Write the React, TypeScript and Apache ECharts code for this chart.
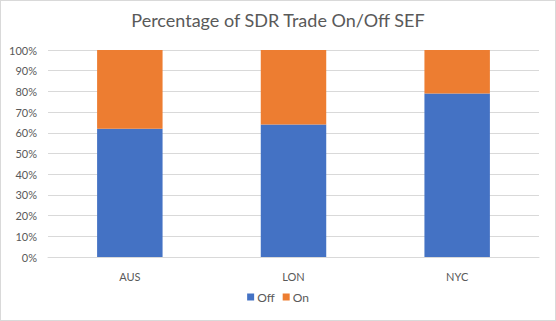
import React, { useEffect, useRef } from "react";
import * as echarts from "echarts";

const categories = ["AUS", "LON", "NYC"];
const offValues = [62, 64, 79];
const onValues = [38, 36, 21];
const seriesNames = ["Off", "On"];

export default function App() {
  const ref = useRef<HTMLDivElement>(null);
  useEffect(() => {
    document.body.style.margin = "0";
    const chart = echarts.init(ref.current!, null, { renderer: "svg" });
    const font = "Lato, 'Open Sans', sans-serif";
    chart.setOption({
      animation: false,
      backgroundColor: "#ffffff",
      title: {
        text: "Percentage of SDR Trade On/Off SEF",
        left: "center",
        top: 5,
        textStyle: { fontFamily: font, fontSize: 18, fontWeight: "normal", color: "#595959" },
      },
      legend: {
        data: seriesNames,
        bottom: 12,
        left: "center",
        itemWidth: 7,
        itemHeight: 7,
        itemGap: 8,
        icon: "rect",
        textStyle: { fontFamily: font, fontSize: 12, color: "#595959", padding: [0, 0, 0, -2] },
      },
      grid: { left: 47, right: 16, top: 49, bottom: 63, containLabel: false },
      xAxis: {
        type: "category",
        data: categories,
        axisTick: { show: false },
        axisLine: { lineStyle: { color: "#d9d9d9" } },
        axisLabel: { fontFamily: font, fontSize: 11, color: "#595959", margin: 14 },
      },
      yAxis: {
        type: "value",
        min: 0,
        max: 100,
        interval: 10,
        axisLabel: { formatter: "{value}%", fontFamily: font, fontSize: 11, color: "#595959", margin: 11 },
        splitLine: { lineStyle: { color: "#d9d9d9" } },
        axisLine: { show: false },
        axisTick: { show: false },
      },
      series: [
        {
          name: seriesNames[0],
          type: "bar",
          stack: "total",
          data: offValues,
          barWidth: "40%",
          itemStyle: { color: "#4472C4" },
        },
        {
          name: seriesNames[1],
          type: "bar",
          stack: "total",
          data: onValues,
          barWidth: "40%",
          itemStyle: { color: "#ED7D31" },
        },
      ],
    });
    return () => chart.dispose();
  }, []);
  return (
    <div
      ref={ref}
      style={{
        position: "absolute",
        left: 0,
        top: 0,
        width: 556,
        height: 321,
        boxSizing: "border-box",
        border: "1px solid #d9d9d9",
      }}
    />
  );
}
